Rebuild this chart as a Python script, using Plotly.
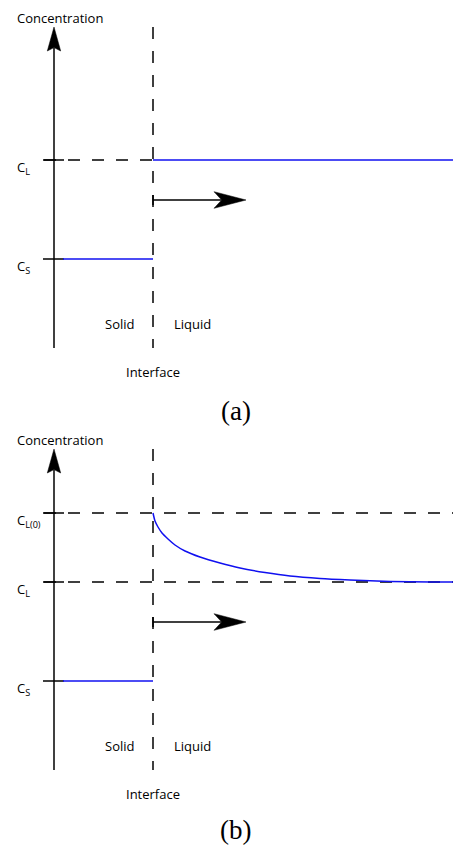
import plotly.graph_objects as go

# Schematic concentration profiles at a moving solid/liquid interface.
# Position is measured from the interface (x = 0); concentration is in
# arbitrary units (0 = foot of the concentration axis).

x_conc_axis = -99          # position of the concentration axis
x_far = 300                # right end of the liquid region
conc_axis_top = 321        # tip of the concentration arrow

# panel (a): equilibrium compositions
a_CL = 188
a_CS = 89

# panel (b): liquid enriched at the interface
b_CL0 = 257
b_CL = 188
b_CS = 89
b_profile_x = [0, 2, 5, 9, 15, 22, 32, 47, 67, 87, 112, 137, 167, 197, 237, 277, 300]
b_profile_c = [257, 249, 243, 237, 231, 225, 219, 213, 207, 202, 197.5, 194, 191.5,
               190, 188.5, 188, 188]

# growth direction arrow
growth_y = 148
growth_tip = 93

tick_left, tick_right = -110, -89
dash_left = -109
solid_left = -90

BLUE = "#1010f0"
FONT = "Open Sans"

fig = go.Figure()


def line(xs, ys, p, color="black", width=1.5, dash=None):
    fig.add_trace(go.Scatter(
        x=xs, y=ys, mode="lines", xaxis="x" + p, yaxis="y" + p,
        line=dict(color=color, width=width, dash=dash, shape="spline", smoothing=0.6),
        hoverinfo="skip", showlegend=False))


def head(tx, ty, dx, dy, length, half, notch, p):
    bx, by = tx - dx * length, ty - dy * length
    px, py = -dy, dx
    nx, ny = tx - dx * (length - notch), ty - dy * (length - notch)
    xs = [tx, bx + px * half, nx, bx - px * half, tx]
    ys = [ty, by + py * half, ny, by - py * half, ty]
    fig.add_trace(go.Scatter(
        x=xs, y=ys, mode="lines", fill="toself", fillcolor="black",
        xaxis="x" + p, yaxis="y" + p, line=dict(color="black", width=0.5),
        hoverinfo="skip", showlegend=False))
    return nx, ny


def text(x, y, s, p, size=13, family=FONT, xanchor="center", yanchor="middle"):
    fig.add_annotation(x=x, y=y, xref="x" + p, yref="y" + p, text=s,
                       showarrow=False, xanchor=xanchor, yanchor=yanchor,
                       font=dict(family=family, size=size, color="black"))


def frame(p):
    # concentration axis with arrow
    nx, ny = head(x_conc_axis, conc_axis_top, 0, 1, 24, 6.7, 3.4, p)
    line([x_conc_axis, x_conc_axis], [0, ny], p)
    # interface
    line([0, 0], [conc_axis_top, 0], p, dash="12px,12px")
    # growth arrow
    nx, ny = head(growth_tip, growth_y, 1, 0, 32, 8.3, 7.7, p)
    line([0, nx], [growth_y, growth_y], p)
    line([0, 0], [growth_y - 5, growth_y + 5], p)
    text(x_conc_axis + 6, 330.5, "Concentration", p)
    text(-34, 24, "Solid", p)
    text(39, 24, "Liquid", p)
    text(0, -24, "Interface", p)


def label(c, s, p):
    fig.add_annotation(x=-138, y=c, xref="x" + p, yref="y" + p, text=s,
                       showarrow=False, xanchor="left", yanchor="middle",
                       yshift=-8, font=dict(family=FONT, size=13, color="black"))


def level(c, s, p, dash_to):
    line([tick_left, tick_right], [c, c], p)
    line([dash_left, dash_to], [c, c], p, dash="12px,12px")
    label(c, s, p)


# ---- panel (a)
frame("")
level(a_CL, "C<sub>L</sub>", "", 0)
line([tick_left, tick_right], [a_CS, a_CS], "")
label(a_CS, "C<sub>S</sub>", "")
line([0, x_far], [a_CL, a_CL], "", color=BLUE)
line([solid_left, 0], [a_CS, a_CS], "", color=BLUE)
text(82.5, -62.5, "(a)", "", size=27, family="Liberation Serif")

# ---- panel (b)
frame("2")
level(b_CL0, "C<sub>L(0)</sub>", "2", x_far)
level(b_CL, "C<sub>L</sub>", "2", x_far)
line([tick_left, tick_right], [b_CS, b_CS], "2")
label(b_CS, "C<sub>S</sub>", "2")
line(b_profile_x, b_profile_c, "2", color=BLUE)
line([solid_left, 0], [b_CS, b_CS], "2", color=BLUE)
text(82.5, -60, "(b)", "2", size=27, family="Liberation Serif")

split = 428 / 850
fig.update_layout(
    width=453, height=850, margin=dict(l=0, r=0, t=0, b=0),
    paper_bgcolor="white", plot_bgcolor="white", showlegend=False,
    xaxis=dict(domain=[0, 1], range=[-153, 300], visible=False),
    yaxis=dict(domain=[split, 1], range=[-74, 348], visible=False),
    xaxis2=dict(domain=[0, 1], range=[-153, 300], visible=False, anchor="y2"),
    yaxis2=dict(domain=[0, split], range=[-80, 348], visible=False, anchor="x2"),
)

fig.write_html("out.html", config={"displayModeBar": False})
